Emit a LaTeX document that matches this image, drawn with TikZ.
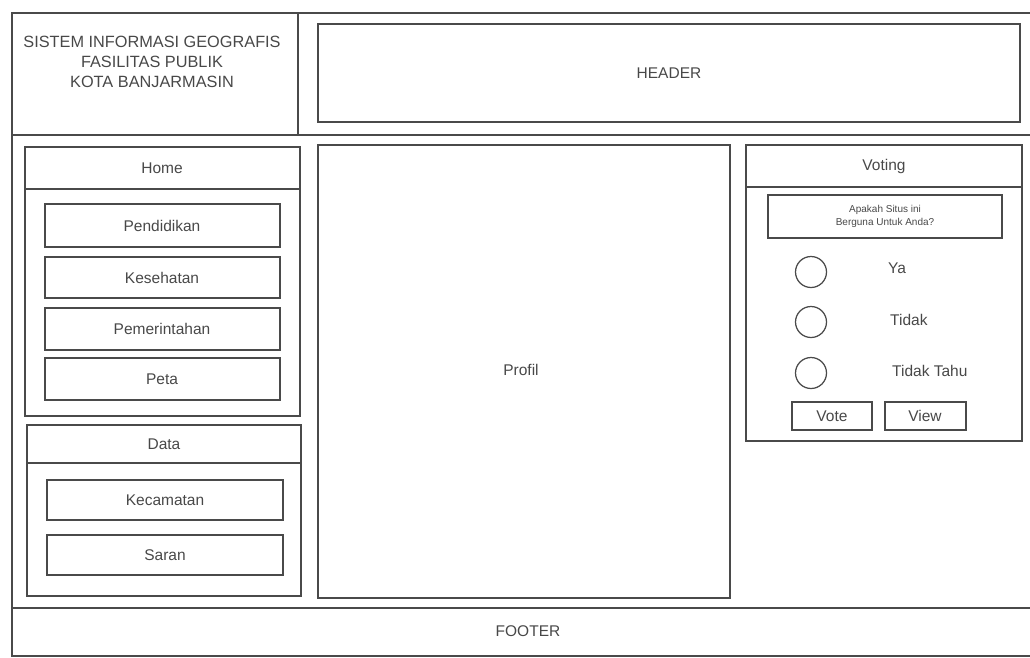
\documentclass[tikz,border=0pt]{standalone}
\usepackage{fontspec}
\setmainfont{Liberation Sans}
\definecolor{ln}{HTML}{4A4A4A}
\definecolor{tx}{HTML}{484848}
\begin{document}
\begin{tikzpicture}[x=1pt,y=-1pt,
  box/.style={draw=ln,line width=1.25pt},
  lbl/.style={text=tx,font=\fontsize{15.5}{18}\selectfont,inner sep=0pt}]
\useasboundingbox (0,0) rectangle (1030,657);
% outer frame
\draw[box] (1030,13) -- (12,13) -- (12,657);
\draw[box] (298,13) -- (298,135);
\draw[box] (12,135) -- (1030,135);
\draw[box] (12,608) -- (1030,608);
\draw[box] (12,656) -- (1030,656);
% title
\node[lbl,align=center,font=\fontsize{16.3}{20}\selectfont] (title) at (152,62)
  {SISTEM INFORMASI GEOGRAFIS\\FASILITAS PUBLIK\\KOTA BANJARMASIN};
% header
\draw[box] (318,24) rectangle (1020,122);
\node[lbl] (header) at (669,73) {HEADER};
% home panel
\draw[box] (25,147) rectangle (300,416);
\draw[box] (25,189) -- (300,189);
\node[lbl] (home) at (162,168) {Home};
\draw[box] (45,204) rectangle (280,247); \node[lbl] (b1) at (162,225.5) {Pendidikan};
\draw[box] (45,257) rectangle (280,298); \node[lbl] (b2) at (162,277.5) {Kesehatan};
\draw[box] (45,308) rectangle (280,350); \node[lbl] (b3) at (162,329) {Pemerintahan};
\draw[box] (45,358) rectangle (280,400); \node[lbl] (b4) at (162,379) {Peta};
% data panel
\draw[box] (27,425) rectangle (301,596);
\draw[box] (27,463) -- (301,463);
\node[lbl] (data) at (164,444) {Data};
\draw[box] (47,480) rectangle (283,520); \node[lbl] (b5) at (165,500) {Kecamatan};
\draw[box] (47,535) rectangle (283,575); \node[lbl] (b6) at (165,555) {Saran};
% profil
\draw[box] (318,145) rectangle (730,598);
\node[lbl] (profil) at (521,370) {Profil};
% voting panel
\draw[box] (746,145) rectangle (1022,441);
\draw[box] (746,187) -- (1022,187);
\node[lbl] (voting) at (884,166) {Voting};
\draw[box] (768,195) rectangle (1002,238);
\node[lbl,align=center,font=\fontsize{10}{13}\selectfont] (q) at (885,216.5) {Apakah Situs ini\\Berguna Untuk Anda?};
\node[box,circle,minimum size=31pt,inner sep=0pt] (c1) at (811,272) {};
\node[box,circle,minimum size=31pt,inner sep=0pt] (c2) at (811,322) {};
\node[box,circle,minimum size=31pt,inner sep=0pt] (c3) at (811,373) {};
\node[lbl,anchor=west] (ya) at (888,268) {Ya};
\node[lbl,anchor=west] (tidak) at (890,320) {Tidak};
\node[lbl,anchor=west] (tt) at (892,371) {Tidak Tahu};
\draw[box] (792,402) rectangle (872,430); \node[lbl] (vote) at (832,416) {Vote};
\draw[box] (885,402) rectangle (966,430); \node[lbl] (view) at (925,416) {View};
% footer
\node[lbl] (footer) at (528,631) {FOOTER};
\end{tikzpicture}
\end{document}
